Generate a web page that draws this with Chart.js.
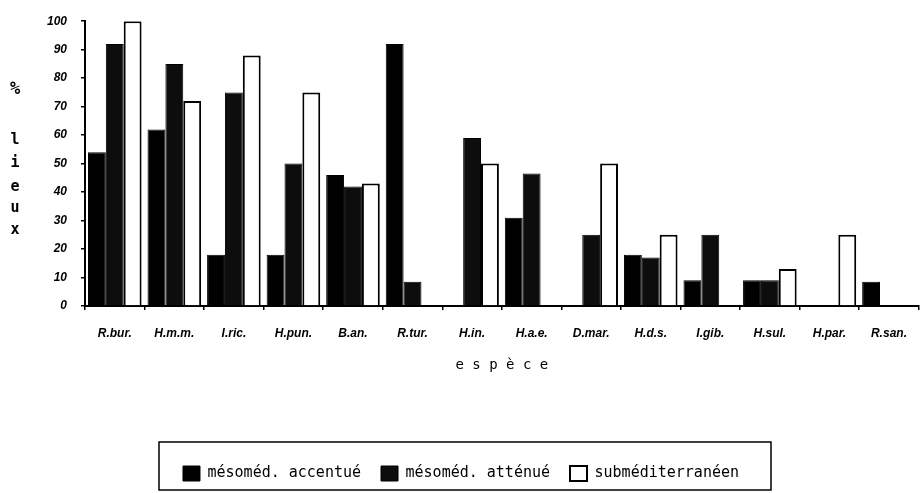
<!DOCTYPE html>
<html>
<head>
<meta charset="utf-8">
<script src="https://cdn.jsdelivr.net/npm/chart.js@4"></script>
<style>
  html, body { margin: 0; padding: 0; background: #fff; }
  #wrap { width: 923px; height: 493px; position: relative; }
</style>
</head>
<body>
<div id="wrap"><canvas id="canvas"></canvas></div>
<script>
// species (x axis)
let especes = ['R.bur.', 'H.m.m.', 'I.ric.', 'H.pun.', 'B.an.', 'R.tur.', 'H.in.',
               'H.a.e.', 'D.mar.', 'H.d.s.', 'I.gib.', 'H.sul.', 'H.par.', 'R.san.'];

// % lieux per climate type
let accentue = [54, 62, 18, 18, 46, 92, 0, 31, 0, 18, 9, 9, 0, 8.5];
let attenue  = [92, 85, 75, 50, 42, 8.5, 59, 46.5, 25, 17, 25, 9, 0, 0];
let submed   = [100, 72, 88, 75, 43, 0, 50, 0, 50, 25, 0, 13, 25, 0];

let yTicks = [0, 10, 20, 30, 40, 50, 60, 70, 80, 90, 100];
let yTitle = ['%', 'l', 'i', 'e', 'u', 'x'];

let myChart = document.getElementById('canvas').getContext('2d');

// y title as stacked letters + box round the legend
let extras = {
  id: 'extras',
  afterDraw(chart) {
    let ctx = chart.ctx;
    ctx.save();
    ctx.fillStyle = '#000';
    ctx.textAlign = 'center';
    ctx.textBaseline = 'middle';
    let ys = [90, 140, 163, 187, 208, 230];
    yTitle.forEach(function(c, i){
      ctx.font = (i === 0 ? 'bold 17px' : 'bold 15px') + ' "DejaVu Sans Mono"';
      ctx.fillText(c, 15, ys[i]);
    });

    let hb = chart.legend.legendHitBoxes;
    if (hb && hb.length) {
      let last = hb[hb.length - 1];
      let left = hb[0].left - 24;
      let right = last.left + last.width + 32;
      let top = hb[0].top - 24;
      ctx.strokeStyle = '#000';
      ctx.lineWidth = 1.5;
      ctx.strokeRect(left, top, right - left, 490 - top);
    }
    ctx.restore();
  }
};

let chart = new Chart(myChart, {
  type: 'bar',
  data: {
    labels: especes,
    datasets: [{
      label: 'mésoméd. accentué',
      backgroundColor: '#000',
      borderColor: '#000',
      borderWidth: 1,
      data: accentue
    },
    {
      label: 'mésoméd. atténué',
      backgroundColor: '#0d0d0d',
      borderColor: '#000',
      borderWidth: 1,
      data: attenue
    },
    {
      label: 'subméditerranéen',
      backgroundColor: '#fff',
      borderColor: '#000',
      borderWidth: 2,
      data: submed
    }]
  },
  options: {
    responsive: true,
    maintainAspectRatio: false,
    animation: false,
    layout: { padding: { top: 20, right: 1, left: 0, bottom: 2 } },
    datasets: { bar: { categoryPercentage: 0.9, barPercentage: 1.0 } },
    plugins: {
      tooltip: { enabled: false },
      legend: {
        position: 'bottom',
        labels: {
          color: '#000',
          boxWidth: 17,
          boxHeight: 15,
          padding: 20,
          font: { family: 'DejaVu Sans Mono', size: 15 }
        }
      }
    },
    scales: {
      x: {
        grid: { display: true, drawOnChartArea: false, tickLength: 4, color: '#000', lineWidth: 1.5 },
        border: { color: '#000', width: 2 },
        ticks: {
          color: '#000',
          padding: 16,
          maxRotation: 0,
          font: { family: 'Liberation Sans', size: 12, weight: 'bold', style: 'italic' }
        },
        title: {
          display: true,
          text: 'e s p è c e',
          color: '#000',
          padding: { top: 14, bottom: 72 },
          font: { family: 'DejaVu Sans Mono', size: 14 }
        },
        afterFit: function(scale){ scale.height = 140; }
      },
      y: {
        min: 0,
        max: 100,
        afterBuildTicks: function(scale){
          scale.ticks = yTicks.map(function(v){ return {value: v}; });
        },
        grid: { display: true, drawOnChartArea: false, tickLength: 4, color: '#000', lineWidth: 1.5 },
        border: { color: '#000', width: 2 },
        ticks: {
          color: '#000',
          padding: 14,
          font: { family: 'Liberation Sans', size: 12, weight: 'bold', style: 'italic' }
        },
        afterFit: function(scale){ scale.width = 85; }
      }
    }
  },
  plugins: [extras]
});
</script>
</body>
</html>
